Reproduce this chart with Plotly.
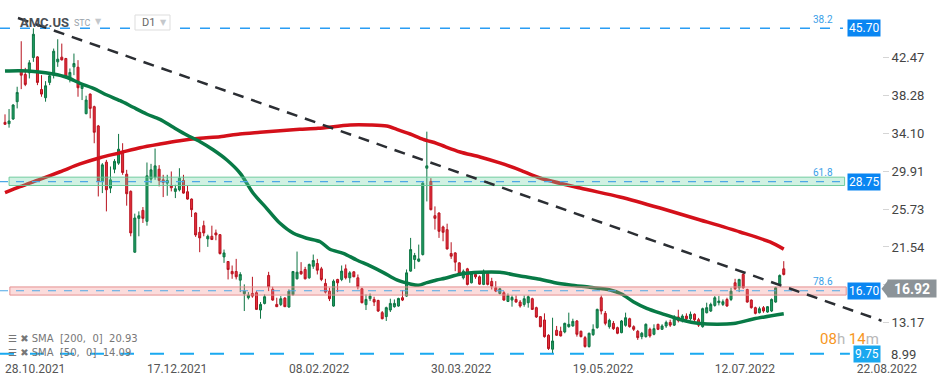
import plotly.graph_objects as go

# ---------------- data ----------------
open_ = [35.31, 35.16, 35.68, 37.59, 41.07, 40.60, 40.78, 42.47, 42.54, 38.94,
         38.03, 39.72, 40.52, 41.99, 42.51, 42.36, 40.23, 41.44, 41.40, 39.05,
         36.27, 38.43, 37.04, 34.91, 28.78, 30.91, 28.04, 30.13, 30.80, 31.97,
         29.58, 27.68, 20.96, 24.70, 25.58, 24.37, 29.03, 29.25, 30.13, 28.96,
         28.59, 28.34, 27.68, 27.86, 28.89, 27.64, 26.83, 25.29, 23.16, 23.89,
         22.43, 22.72, 23.09, 22.90, 20.44, 19.93, 18.83, 18.83, 17.87, 16.37,
         15.93, 16.40, 16.48, 14.57, 15.30, 18.39, 16.85, 15.19, 15.19, 15.89,
         14.90, 16.26, 18.02, 18.83, 19.05, 18.13, 19.41, 19.71, 19.12, 17.51,
         16.66, 15.01, 17.95, 17.95, 19.12, 18.13, 18.79, 18.13, 16.92, 15.16,
         15.82, 15.74, 15.63, 14.28, 13.84, 14.57, 14.94, 15.01, 15.93, 16.11,
         18.87, 20.15, 19.97, 20.70, 30.24, 28.78, 24.99, 25.29, 23.75, 23.45,
         20.81, 20.88, 19.78, 18.13, 19.12, 17.58, 18.50, 18.24, 17.40, 18.61,
         17.73, 17.03, 16.40, 16.48, 15.52, 15.67, 15.74, 15.45, 15.19, 15.38,
         15.82, 14.83, 13.84, 13.47, 11.78, 10.24, 12.33, 12.22, 12.15, 12.73,
         12.81, 13.36, 12.22, 11.52, 10.53, 11.85, 12.62, 15.93, 14.20, 12.73,
         13.10, 12.62, 12.07, 12.88, 13.61, 12.73, 12.22, 11.63, 11.63, 12.44,
         11.89, 12.99, 12.44, 12.81, 13.20, 12.90, 13.80, 13.40, 13.90, 13.60,
         14.10, 13.50, 12.73, 14.27, 14.46, 15.08, 15.38, 15.19, 15.74, 15.74,
         17.58, 17.03, 18.50, 16.84, 15.67, 14.83, 14.27, 14.83, 14.35, 14.46,
         15.45, 17.40, 19.12]
high = [36.19, 36.78, 37.33, 39.24, 44.27, 41.33, 42.18, 45.70, 42.62, 40.52,
        39.86, 40.71, 43.46, 44.49, 44.01, 42.43, 41.26, 42.91, 42.18, 39.61,
        38.25, 38.50, 37.15, 35.02, 30.80, 31.16, 30.43, 31.24, 34.03, 33.00,
        30.06, 27.79, 25.22, 25.47, 25.95, 30.87, 30.72, 32.41, 30.58, 29.51,
        29.51, 29.88, 28.41, 30.24, 29.51, 28.30, 26.90, 25.36, 23.75, 24.44,
        22.90, 23.89, 23.46, 22.95, 21.25, 19.98, 19.49, 20.22, 18.75, 17.40,
        16.55, 18.24, 16.66, 15.45, 16.29, 18.79, 17.14, 15.93, 16.11, 16.00,
        16.85, 18.86, 21.03, 19.86, 19.34, 19.71, 20.70, 20.22, 19.34, 18.02,
        17.03, 17.95, 18.02, 19.49, 19.60, 18.87, 18.85, 18.50, 17.03, 16.29,
        16.40, 16.04, 15.70, 14.46, 14.94, 15.82, 15.74, 15.93, 16.77, 19.05,
        22.54, 20.88, 21.80, 28.78, 34.28, 29.14, 26.02, 25.36, 23.89, 24.11,
        22.06, 20.96, 19.86, 19.05, 19.23, 18.75, 18.68, 18.39, 19.05, 18.75,
        18.13, 17.76, 17.03, 16.66, 16.40, 16.18, 16.18, 15.67, 16.18, 16.18,
        15.93, 14.94, 13.91, 14.20, 11.89, 13.72, 12.81, 12.73, 13.17, 14.28,
        13.61, 13.47, 12.30, 11.71, 12.07, 12.99, 14.72, 16.18, 14.46, 13.61,
        13.36, 12.73, 13.47, 14.28, 13.72, 12.88, 12.37, 12.15, 13.10, 12.62,
        12.99, 13.05, 13.00, 13.40, 13.50, 14.00, 14.60, 14.10, 14.20, 14.40,
        14.20, 13.70, 14.83, 15.38, 15.38, 16.11, 16.11, 15.74, 15.93, 17.03,
        18.02, 18.02, 18.86, 16.92, 15.74, 14.94, 14.94, 15.01, 15.01, 15.85,
        17.14, 18.50, 19.97]
low = [35.09, 34.72, 35.57, 36.85, 38.98, 39.31, 40.16, 41.99, 39.42, 38.14,
       37.59, 39.42, 40.16, 41.44, 42.15, 40.16, 39.72, 40.52, 38.14, 37.77,
       36.19, 35.75, 33.00, 27.12, 27.49, 25.47, 27.49, 29.69, 30.61, 29.51,
       26.10, 22.72, 20.90, 22.72, 24.19, 23.89, 28.59, 28.96, 28.23, 27.05,
       27.20, 27.68, 26.94, 27.68, 27.42, 26.76, 24.85, 22.65, 20.96, 22.72,
       21.55, 22.30, 22.28, 20.70, 19.78, 17.95, 18.02, 17.95, 16.55, 14.46,
       15.74, 15.93, 14.57, 13.61, 15.19, 16.66, 15.60, 14.90, 15.01, 14.90,
       14.83, 16.18, 17.95, 18.46, 17.95, 18.02, 19.12, 18.50, 17.76, 16.40,
       15.56, 14.94, 16.55, 17.76, 17.95, 17.58, 18.20, 16.85, 15.30, 14.57,
       15.56, 15.01, 14.35, 13.54, 13.36, 14.35, 14.83, 14.94, 15.56, 16.04,
       18.80, 19.12, 19.86, 20.59, 26.57, 25.58, 23.46, 22.54, 22.17, 21.25,
       20.22, 18.86, 18.50, 17.95, 17.29, 17.51, 18.02, 17.36, 17.32, 17.29,
       16.84, 16.55, 16.29, 15.60, 15.45, 14.94, 15.38, 14.83, 14.94, 14.83,
       14.57, 13.69, 12.66, 11.52, 10.16, 9.80, 11.71, 11.65, 12.00, 12.62,
       12.73, 11.63, 11.55, 10.42, 10.42, 11.71, 12.51, 14.09, 12.88, 12.51,
       12.37, 11.90, 12.00, 12.73, 12.62, 12.26, 11.27, 11.34, 11.52, 11.52,
       11.78, 12.35, 12.37, 12.60, 12.70, 12.80, 13.20, 13.20, 13.40, 13.40,
       13.30, 12.70, 12.62, 14.20, 14.35, 14.94, 15.08, 15.01, 14.94, 15.56,
       16.77, 16.55, 16.92, 15.38, 14.72, 14.09, 14.20, 14.27, 14.27, 14.35,
       15.38, 17.29, 18.39]
close = [35.09, 35.46, 37.22, 38.61, 40.52, 39.50, 41.88, 45.04, 39.72, 38.43,
         39.35, 40.45, 43.17, 42.29, 42.21, 40.34, 40.82, 41.81, 39.13, 39.35,
         37.77, 36.85, 34.21, 28.78, 30.61, 27.86, 28.96, 31.00, 32.34, 29.77,
         27.42, 23.09, 24.74, 24.99, 24.70, 29.40, 30.06, 30.50, 28.89, 28.67,
         28.89, 28.08, 27.97, 29.14, 27.49, 26.83, 25.66, 22.87, 22.54, 23.09,
         22.72, 22.36, 22.87, 20.81, 20.88, 19.05, 18.57, 18.24, 18.50, 16.66,
         16.22, 16.11, 14.64, 15.19, 16.04, 17.14, 15.67, 14.94, 15.82, 14.94,
         16.66, 18.83, 18.75, 18.57, 18.02, 19.60, 20.04, 18.97, 17.95, 16.55,
         15.82, 17.76, 17.58, 18.87, 18.13, 18.68, 18.24, 17.14, 15.38, 15.74,
         16.11, 15.45, 14.46, 13.61, 14.83, 15.30, 15.30, 15.85, 15.67, 18.68,
         21.25, 20.59, 20.22, 28.59, 30.50, 25.66, 24.70, 23.27, 23.16, 21.32,
         20.52, 19.86, 18.61, 18.86, 17.40, 18.61, 18.24, 17.43, 18.86, 17.40,
         17.21, 16.66, 16.92, 15.67, 16.18, 15.96, 15.45, 15.01, 15.82, 16.04,
         14.64, 13.80, 12.73, 11.63, 10.31, 11.15, 11.78, 11.71, 13.10, 12.99,
         13.32, 11.89, 11.63, 10.53, 12.00, 12.44, 14.64, 14.46, 13.10, 13.43,
         12.51, 12.00, 13.36, 13.72, 12.73, 12.44, 11.52, 12.00, 12.99, 11.71,
         12.51, 12.44, 12.81, 13.20, 12.90, 13.80, 13.40, 13.90, 13.60, 14.10,
         13.50, 12.90, 14.72, 14.83, 15.19, 15.93, 15.56, 15.49, 15.01, 16.66,
         16.92, 17.95, 17.03, 15.45, 14.83, 14.20, 14.72, 14.46, 14.94, 15.74,
         17.03, 18.39, 18.50]
bar_index = list(range(len(open_)))

sma200_x = [0, 3.7, 8.6, 13.6, 18.5, 23.4, 28.4, 33.3, 38.2, 43.1, 48.1, 53.0,
            57.9, 62.9, 67.8, 72.7, 77.2, 85.1, 90.0, 94.1, 96.6, 99.9, 103.1,
            106.4, 108.5, 112.2, 117.1, 122.0, 127.0, 131.9, 141.8, 151.6,
            161.5, 171.4, 181.2, 188.6, 192.0]
sma200_y = [27.53, 28.20, 29.01, 29.85, 30.71, 31.40, 31.95, 32.51, 32.92, 33.28,
            33.55, 33.72, 34.02, 34.21, 34.39, 34.54, 34.65, 35.01, 35.01, 34.90,
            34.54, 34.02, 33.43, 32.99, 32.62, 32.03, 31.48, 30.82, 30.04, 29.16,
            28.05, 27.06, 25.84, 24.52, 23.19, 22.09, 21.30]
sma50_x = [0, 3.7, 7.8, 11.9, 15.2, 18.5, 21.8, 25.1, 28.4, 31.6, 34.9, 38.2,
           41.5, 44.8, 48.1, 51.4, 54.7, 58.0, 61.2, 64.5, 67.8, 71.1, 74.4,
           77.7, 80.1, 83.4, 86.7, 90.0, 93.3, 96.6, 99.9, 101.9, 104.0, 106.4,
           108.5, 112.2, 117.1, 122.0, 127.0, 131.9, 135.6, 139.3, 144.2,
           149.2, 152.0, 154.9, 158.2, 162.7, 166.4, 171.4, 179.6, 184.5, 192.0]
sma50_y = [40.98, 41.01, 40.90, 40.65, 40.29, 39.62, 39.07, 38.33, 37.70, 36.97,
           36.23, 35.64, 34.76, 33.91, 33.17, 32.25, 31.15, 29.68, 27.47, 25.81,
           24.15, 23.05, 22.50, 22.12, 21.28, 20.84, 20.10, 19.44, 18.70, 17.89,
           17.45, 17.30, 17.59, 17.89, 18.08, 18.52, 18.74, 18.74, 18.33, 17.97,
           17.59, 17.34, 17.08, 16.79, 16.34, 15.49, 14.76, 14.07, 13.52, 13.07,
           13.07, 13.58, 14.15]

tick_pos = [0, 35, 70, 105, 140, 175, 210]
tick_dates = ["28.10.2021", "17.12.2021", "08.02.2022", "30.03.2022",
              "19.05.2022", "12.07.2022", "22.08.2022"]
price_ticks = [42.47, 38.28, 34.10, 29.91, 25.73, 21.54, 17.36, 13.17]
bottom_tick = 8.99

fib_levels = [45.70, 28.75, 16.70, 9.75]
fib_names = ["38.2", "61.8", "78.6"]
last_price = 16.92
trend_x = [3.2, 216.1]
trend_y = [46.84, 13.39]
green_band = [28.33, 29.25]
pink_band = [16.22, 17.12]
sma200_last = 20.93
sma50_last = 14.09

# ---------------- layout helpers ----------------
X0, X1 = -1.233, 216.22
Y0, Y1 = 9.048, 48.827
PLOT_W = 882.0
FONT = "Roboto"


def px_x(px):
    return px / PLOT_W


def px_y(py):
    return 1 - py / 360.0


def val_y(v):
    return (v - Y0) / (Y1 - Y0)


fig = go.Figure()

fig.add_trace(go.Candlestick(
    x=bar_index, open=open_, high=high, low=low, close=close,
    increasing=dict(line=dict(color="#0d7443", width=1), fillcolor="#1f9e62"),
    decreasing=dict(line=dict(color="#b8121e", width=1), fillcolor="#e5303d"),
    whiskerwidth=0, hoverinfo="skip", showlegend=False,
))

fig.add_trace(go.Scatter(
    x=sma200_x, y=sma200_y, mode="lines",
    line=dict(color="#d4101a", width=3.5, shape="spline", smoothing=0.8),
    hoverinfo="skip", showlegend=False))
fig.add_trace(go.Scatter(
    x=sma50_x, y=sma50_y, mode="lines",
    line=dict(color="#087a46", width=3.5, shape="spline", smoothing=0.8),
    hoverinfo="skip", showlegend=False))

shapes = []
# bands
shapes.append(dict(type="rect", xref="x", yref="y", x0=1.0, x1=207.0,
                   y0=green_band[0], y1=green_band[1],
                   fillcolor="rgba(110,212,165,0.32)",
                   line=dict(color="rgba(100,200,150,0.9)", width=1), layer="above"))
shapes.append(dict(type="rect", xref="x", yref="y", x0=1.2, x1=207.4,
                   y0=pink_band[0], y1=pink_band[1],
                   fillcolor="rgba(240,130,130,0.28)",
                   line=dict(color="rgba(228,140,140,0.95)", width=1), layer="above"))
# fib level lines
shapes.append(dict(type="line", xref="x", yref="y", x0=X0, x1=206.6,
                   y0=fib_levels[0], y1=fib_levels[0],
                   line=dict(color="#2a9df4", width=1.4, dash="10px,10px"), layer="above"))
shapes.append(dict(type="line", xref="x", yref="y", x0=X0, x1=207.0,
                   y0=fib_levels[1], y1=fib_levels[1],
                   line=dict(color="#4da8e6", width=1.2, dash="8px,8px"), layer="above"))
shapes.append(dict(type="line", xref="x", yref="y", x0=X0, x1=207.4,
                   y0=fib_levels[2], y1=fib_levels[2],
                   line=dict(color="#4da8e6", width=1.2, dash="8px,8px"), layer="above"))
shapes.append(dict(type="line", xref="x", yref="y", x0=X0, x1=208.3,
                   y0=fib_levels[3], y1=fib_levels[3],
                   line=dict(color="#1aa9f0", width=2, dash="14px,16px"), layer="above"))
# trend line
shapes.append(dict(type="line", xref="x", yref="y", x0=trend_x[0], x1=trend_x[1],
                   y0=trend_y[0], y1=trend_y[1],
                   line=dict(color="#2b2e33", width=2.5, dash="11px,8px"), layer="above"))
# arrow tip of the current price tag
yc = val_y(last_price)
hh = 8.5 / 360.0
shapes.append(dict(type="path", xref="paper", yref="paper",
                   path=(f"M {px_x(881.5)},{yc} L {px_x(888)},{yc + hh} "
                         f"L {px_x(888)},{yc - hh} Z"),
                   fillcolor="#8c9398", line=dict(width=0), layer="above"))
# D1 box
shapes.append(dict(type="rect", xref="paper", yref="paper",
                   x0=px_x(135), x1=px_x(170), y0=px_y(30), y1=px_y(15),
                   fillcolor="white", line=dict(color="#dddddd", width=1), layer="above"))

annotations = []
# fib percentage labels
for lvl, name in zip(fib_levels[:3], fib_names):
    annotations.append(dict(xref="paper", yref="y", x=px_x(835), y=lvl, yshift=9,
                            xanchor="right", text=name, showarrow=False,
                            font=dict(family=FONT, size=10, color="#3aa0e8")))
# level boxes
box_colors = ["#0a86f2", "#0a86f2", "#0a86f2", "#1aa8ef"]
for lvl, col in zip(fib_levels, box_colors):
    annotations.append(dict(xref="paper", yref="y", x=px_x(880.5), y=lvl,
                            xanchor="right", yanchor="middle",
                            text=f"{lvl:.2f}", showarrow=False, bgcolor=col,
                            borderpad=1,
                            font=dict(family=FONT, size=12, color="white")))
# current price tag (box + text)
annotations.append(dict(xref="paper", yref="y", x=px_x(887.5), y=last_price,
                        xanchor="left", yanchor="middle",
                        text=f"<b>{last_price:.2f}</b>", showarrow=False,
                        bgcolor="#8c9398", width=46, height=15, borderpad=1,
                        font=dict(family=FONT, size=14, color="white")))
# bottom price tick label (shifted up like the reference)
annotations.append(dict(xref="paper", yref="paper", x=px_x(889), y=px_y(354.5),
                        xanchor="left", yanchor="middle",
                        text=f"{bottom_tick:.2f}", showarrow=False,
                        font=dict(family=FONT, size=13, color="#444444")))
# countdown
annotations.append(dict(xref="paper", yref="paper", x=px_x(881), y=px_y(338.5),
                        xanchor="right", yanchor="middle", showarrow=False,
                        text=("<span style='color:#f7961e'>08</span>"
                              "<span style='color:#b8b8b8'>h </span>"
                              "<span style='color:#f7961e'>14</span>"
                              "<span style='color:#b8b8b8'>m</span>"),
                        font=dict(family=FONT, size=15)))
# header
annotations.append(dict(xref="paper", yref="paper", x=px_x(18), y=px_y(22.5),
                        xanchor="left", yanchor="middle", showarrow=False,
                        text="<b>AMC.US</b>",
                        font=dict(family=FONT, size=13, color="#4a4f55")))
annotations.append(dict(xref="paper", yref="paper", x=px_x(72), y=px_y(23),
                        xanchor="left", yanchor="middle", showarrow=False,
                        text="STC", font=dict(family=FONT, size=9, color="#9aa3ab")))
annotations.append(dict(xref="paper", yref="paper", x=px_x(93), y=px_y(21),
                        xanchor="left", yanchor="middle", showarrow=False,
                        text="▼", font=dict(family="DejaVu Sans", size=8, color="#c4c8cc")))
annotations.append(dict(xref="paper", yref="paper", x=px_x(140), y=px_y(22.5),
                        xanchor="left", yanchor="middle", showarrow=False,
                        text="D1", font=dict(family=FONT, size=11, color="#666666")))
annotations.append(dict(xref="paper", yref="paper", x=px_x(158), y=px_y(22),
                        xanchor="left", yanchor="middle", showarrow=False,
                        text="▼", font=dict(family="DejaVu Sans", size=8, color="#c4c8cc")))
# indicator legend rows
annotations.append(dict(xref="paper", yref="paper", x=px_x(6), y=px_y(338.5),
                        xanchor="left", yanchor="middle", showarrow=False,
                        text=f"☰ ✖ SMA  [200,  0]  {sma200_last:.2f}",
                        font=dict(family="DejaVu Sans", size=10, color="#777777")))
annotations.append(dict(xref="paper", yref="paper", x=px_x(6), y=px_y(352.5),
                        xanchor="left", yanchor="middle", showarrow=False,
                        text=f"☰ ✖ SMA  [50,  0]  {sma50_last:.2f}",
                        font=dict(family="DejaVu Sans", size=10, color="#777777")))

fig.update_layout(
    width=949, height=385,
    margin=dict(l=0, r=67, t=0, b=25),
    paper_bgcolor="white", plot_bgcolor="white",
    showlegend=False,
    shapes=shapes, annotations=annotations,
    xaxis=dict(range=[X0, X1], rangeslider=dict(visible=False),
               tickmode="array", tickvals=tick_pos, ticktext=tick_dates,
               ticklabelposition="outside right",
               showgrid=False, zeroline=False, showline=False, ticks="",
               tickfont=dict(family=FONT, size=12, color="#555555")),
    yaxis=dict(range=[Y0, Y1], side="right",
               tickmode="array", tickvals=price_ticks,
               ticktext=[f"{v:.2f}" for v in price_ticks],
               ticks="outside", ticklen=6, tickcolor="#d5d5d5", tickwidth=1,
               showgrid=False, zeroline=False, showline=False,
               tickfont=dict(family=FONT, size=13, color="#444444")),
)

fig.write_html("out.html",
               config={"displayModeBar": False},
               post_script="document.body.style.margin='0';"
                           "document.body.style.padding='0';")
